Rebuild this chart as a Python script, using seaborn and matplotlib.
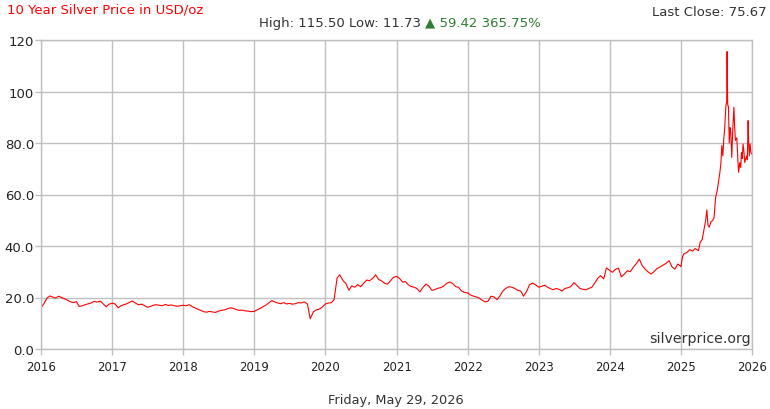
import pandas as pd
import numpy as np
import matplotlib
matplotlib.use("Agg")
import matplotlib.pyplot as plt
import matplotlib.dates as mdates
import seaborn as sns
from matplotlib.ticker import FuncFormatter

# Precios (dos puntos por mes hasta 2024)
price_2016 = [16.0, 17.5, 19.8, 20.6, 20.2, 19.8, 20.5, 20.0, 19.5, 19.0, 18.3, 18.0,
              18.4, 16.5, 16.8, 17.2, 17.6, 17.9, 18.5, 18.2, 18.6, 17.6, 16.4, 17.4]
price_2017 = [17.8, 17.5, 16.0, 16.8, 17.2, 17.5, 18.2, 18.6, 17.8, 17.2, 17.4, 16.9,
              16.2, 16.5, 17.0, 17.2, 17.0, 16.8, 17.3, 16.9, 17.1, 16.8, 16.6, 16.8]
price_2018 = [17.0, 16.8, 17.2, 16.5, 16.0, 15.5, 15.0, 14.5, 14.3, 14.6, 14.4, 14.2,
              14.7, 15.0, 15.2, 15.6, 16.0, 15.8, 15.3, 15.0, 15.1, 14.8, 14.7, 14.5]
price_2019 = [14.6, 15.2, 15.8, 16.5, 17.0, 17.8, 18.8, 18.3, 17.9, 17.6, 18.0, 17.5,
              17.7, 17.4, 17.6, 18.0, 17.9, 18.3, 17.5, 11.73, 14.5, 15.2, 15.5, 16.2]
price_2020 = [17.5, 17.8, 18.0, 19.2, 27.5, 28.8, 26.5, 25.5, 22.8, 24.5, 24.0, 25.0,
              24.2, 25.5, 26.8, 26.5, 27.5, 28.8, 27.0, 26.5, 25.5, 25.2, 26.5, 27.8]
price_2021 = [28.2, 27.5, 26.0, 26.2, 25.0, 24.3, 24.0, 23.5, 22.2, 23.8, 25.2, 24.5,
              22.8, 23.0, 23.6, 23.8, 24.5, 25.5, 26.0, 25.5, 24.2, 24.0, 22.5, 22.0]
price_2022 = [21.8, 21.0, 20.5, 20.2, 19.8, 19.0, 18.3, 18.5, 20.5, 20.3, 19.2, 20.5,
              22.5, 23.5, 24.2, 24.0, 23.5, 22.8, 22.5, 20.5, 22.5, 25.0, 25.6, 25.0]
price_2023 = [24.0, 24.3, 24.8, 24.0, 23.5, 23.0, 23.5, 23.2, 22.5, 23.5, 23.8, 24.2,
              25.8, 24.8, 23.5, 23.2, 23.0, 23.5, 24.0, 25.5, 27.5, 28.5, 27.2, 31.5]
price_2024 = [30.5, 29.8, 31.0, 31.4, 28.0, 29.0, 30.4, 30.0, 31.7, 33.0, 34.9, 32.5,
              31.0, 30.0, 29.1, 30.0, 31.3, 31.8, 32.6, 33.2, 34.3, 32.0, 31.0, 33.0]

# 2025 con mas detalle
dates_2025 = ["2025-01-01", "2025-01-08", "2025-01-15", "2025-02-01", "2025-02-15",
              "2025-03-01", "2025-03-15", "2025-04-01", "2025-04-10", "2025-04-20",
              "2025-05-01", "2025-05-08", "2025-05-14", "2025-05-20", "2025-05-26",
              "2025-06-05", "2025-06-12", "2025-06-20", "2025-06-28", "2025-07-05",
              "2025-07-10", "2025-07-15", "2025-07-20", "2025-07-25", "2025-07-30",
              "2025-08-04", "2025-08-09", "2025-08-14", "2025-08-20", "2025-08-24",
              "2025-08-26", "2025-08-29", "2025-09-02", "2025-09-06", "2025-09-10",
              "2025-09-14", "2025-09-19", "2025-09-24", "2025-09-30", "2025-10-04",
              "2025-10-08", "2025-10-15", "2025-10-20", "2025-10-24", "2025-10-30",
              "2025-11-04", "2025-11-08", "2025-11-12", "2025-11-16", "2025-11-20",
              "2025-11-25", "2025-11-30", "2025-12-04", "2025-12-08", "2025-12-12",
              "2025-12-15", "2025-12-18", "2025-12-22", "2025-12-26", "2025-12-31"]
price_2025 = [32.0, 35.5, 36.9, 37.5, 38.6, 38.0, 39.0, 38.2, 41.5, 42.5,
              47.0, 50.0, 54.0, 48.0, 47.3, 49.5, 49.8, 51.0, 58.9, 61.0,
              63.4, 66.0, 68.6, 72.0, 79.0, 75.0, 81.6, 86.0, 94.5, 96.0,
              115.5, 95.0, 94.0, 80.0, 86.0, 84.0, 74.4, 85.0, 93.9, 86.0,
              81.0, 82.0, 74.0, 68.6, 72.4, 70.5, 76.3, 74.0, 79.6, 77.0,
              72.4, 74.0, 75.0, 73.5, 88.7, 80.0, 75.0, 79.6, 76.5, 75.67]

title_text = "10 Year Silver Price in USD/oz"
last_close_text = "Last Close: 75.67"
range_text = "High: 115.50 Low: 11.73 "
change_text = "\u25b2 59.42 365.75%"
date_text = "Friday, May 29, 2026"
site_text = "silverprice.org"


def price_formatter(x, pos):
    """Formato del eje y: 0.0 ... 80.0, 100, 120"""
    if x >= 100:
        return '{:.0f}'.format(x)
    return '{:.1f}'.format(x)


def build_frame():
    semi = pd.date_range("2016-01-01", "2024-12-15", freq="SMS")
    prices = (price_2016 + price_2017 + price_2018 + price_2019 + price_2020 +
              price_2021 + price_2022 + price_2023 + price_2024)
    df = pd.DataFrame({'date': semi, 'price': prices})
    df25 = pd.DataFrame({'date': pd.to_datetime(dates_2025), 'price': price_2025})
    return pd.concat([df, df25], ignore_index=True)


def main():
    df = build_frame()

    sns.set_style("whitegrid")
    plt.rcParams['font.family'] = ['DejaVu Sans']

    fig = plt.figure(figsize=(7.7, 4.1), dpi=100)
    ax = fig.add_axes([41 / 770, 1 - 350 / 410, (752 - 41) / 770, (350 - 41) / 410])

    sns.lineplot(data=df, x='date', y='price', color='#ff0000', linewidth=0.8, ax=ax)

    ax.set_xlim(pd.Timestamp("2016-01-01"), pd.Timestamp("2026-01-01"))
    ax.set_ylim(0, 120)
    ax.set_yticks([0, 20, 40, 60, 80, 100, 120])
    ax.yaxis.set_major_formatter(FuncFormatter(price_formatter))
    ax.xaxis.set_major_locator(mdates.YearLocator())
    ax.xaxis.set_major_formatter(mdates.DateFormatter('%Y'))
    ax.set_xlabel('')
    ax.set_ylabel('')

    ax.grid(True, color='#c0c0c0', linewidth=1.0)
    for side in ['left', 'bottom', 'top', 'right']:
        ax.spines[side].set_color('#c0c0c0')
        ax.spines[side].set_linewidth(1.0)
    ax.tick_params(axis='both', which='major', length=4, width=1.0, color='#c0c0c0',
                   labelcolor='#222222', bottom=True, left=True)
    ax.tick_params(axis='x', labelsize=8.5, pad=4)
    ax.tick_params(axis='y', labelsize=9.5, pad=1)

    # Textos
    fig.text(7 / 770, 1 - 10 / 410, title_text, color='#ff0000', fontsize=9.5,
             ha='left', va='center')
    fig.text(767 / 770, 1 - 12 / 410, last_close_text, color='#333333', fontsize=9.5,
             ha='right', va='center')
    fig.text(425 / 770, 1 - 23 / 410, range_text, color='#333333', fontsize=9.5,
             ha='right', va='center')
    fig.text(425 / 770, 1 - 23 / 410, change_text, color='#2e7d32', fontsize=9.5,
             ha='left', va='center')
    ax.text(0.998, 0.012, site_text, transform=ax.transAxes, color='#333333',
            fontsize=10.2, ha='right', va='bottom')
    fig.text(396 / 770, 1 - 401 / 410, date_text, color='#333333', fontsize=9.3,
             ha='center', va='center')

    fig.savefig('out.png', dpi=100)
    plt.close(fig)


if __name__ == "__main__":
    main()
